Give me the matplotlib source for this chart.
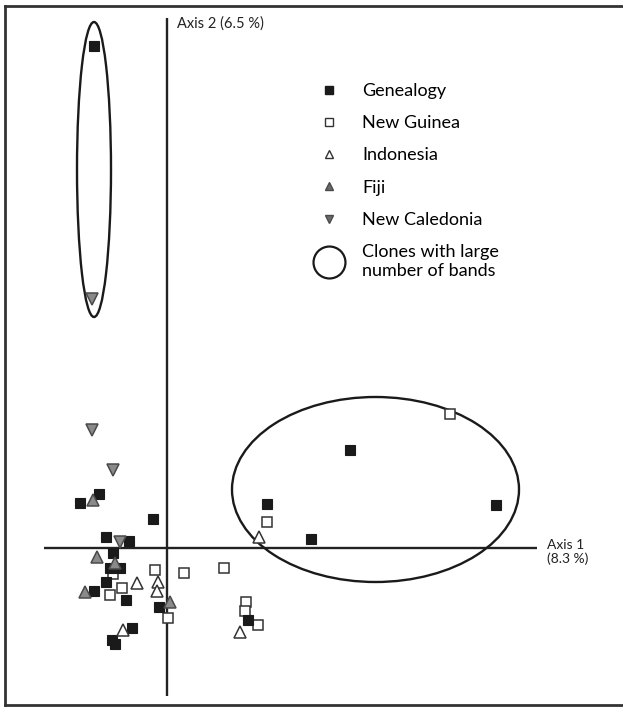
import matplotlib

matplotlib.use("Agg")
import matplotlib.pyplot as plt
import matplotlib.lines as mlines
from matplotlib.patches import Ellipse

plt.rcParams["font.family"] = ["Lato", "DejaVu Sans"]

# PCA scores (arbitrary units, origin at axis crossing)
genealogy_x = [-7.3, -6.8, -8.7, -1.4, -6.1, -3.8, -5.4, -5.7, -4.7, -6.1, -7.3,
               -4.1, -0.8, -3.5, -5.5, -5.2, 8.1, 10.0, 14.4, 18.3, 32.9]
genealogy_y = [50.2, 5.4, 4.5, 2.9, 1.1, 0.7, -0.5, -2.0, -2.0, -3.4, -4.3,
               -5.2, -5.9, -8.0, -9.2, -9.6, -7.2, 4.4, 0.9, 9.8, 4.3]

new_guinea_x = [-5.4, -5.7, -4.5, -1.2, 1.7, 0.1, 5.7, 7.9, 7.8, 9.1, 10.0, 28.3]
new_guinea_y = [-2.6, -4.7, -4.0, -2.2, -2.5, -7.0, -2.0, -5.4, -6.3, -7.7, 2.6, 13.4]

indonesia_x = [-3.0, -0.9, -1.0, -4.4, 7.3, 9.2]
indonesia_y = [-3.5, -3.4, -4.3, -8.2, -8.4, 1.1]

fiji_x = [-7.4, -7.0, -5.2, -8.2, 0.3]
fiji_y = [4.8, -0.9, -1.5, -4.4, -5.4]

new_caledonia_x = [-7.5, -5.4, -4.7, -7.5]
new_caledonia_y = [11.8, 7.8, 0.6, 24.9]

# ellipses around clones with many bands: (cx, cy, width, height)
clone_groups = [(20.85, 5.85, 28.7, 18.5), (-7.3, 37.85, 3.4, 29.5)]

AXIS1_SPAN = (-12.3, 37.0)
AXIS2_SPAN = (-14.8, 53.0)
XLIM = (-16.7, 45.6)
YLIM = (-15.9, 54.8)

fig = plt.figure(figsize=(6.23, 7.07), dpi=100)
ax = fig.add_axes([0, 0, 1, 1])
ax.set_xlim(*XLIM)
ax.set_ylim(*YLIM)
ax.axis("off")

# axes of the ordination
ax.hlines(0, *AXIS1_SPAN, color="#222222", lw=1.7, zorder=1)
ax.vlines(0, *AXIS2_SPAN, color="#222222", lw=1.7, zorder=1)
ax.text(AXIS1_SPAN[1] + 1.0, -0.4, "Axis 1\n(8.3 %)", fontsize=10, va="center",
        ha="left", color="#222222", linespacing=1.05)
ax.text(1.0, AXIS2_SPAN[1] - 0.6, "Axis 2 (6.5 %)", fontsize=10.5, va="center",
        ha="left", color="#222222")

for cx, cy, w, h in clone_groups:
    ax.add_patch(Ellipse((cx, cy), w, h, fill=False, ec="#1a1a1a", lw=1.7, zorder=2))

ax.plot(new_guinea_x, new_guinea_y, "s", ms=7.4, mfc="white", mec="#333333",
        mew=1.1, zorder=3)
ax.plot(genealogy_x, genealogy_y, "s", ms=7.6, mfc="#1a1a1a", mec="#1a1a1a",
        mew=0.8, zorder=4)
ax.plot(indonesia_x, indonesia_y, "^", ms=8.2, mfc="white", mec="#333333",
        mew=1.1, zorder=5)
ax.plot(fiji_x, fiji_y, "^", ms=8.2, mfc="#8a8a8a", mec="#4a4a4a",
        mew=1.1, zorder=5)
ax.plot(new_caledonia_x, new_caledonia_y, "v", ms=8.2, mfc="#8a8a8a", mec="#4a4a4a",
        mew=1.1, zorder=5)

handles = [
    mlines.Line2D([], [], ls="None", marker="s", ms=5.5, mfc="#1a1a1a", mec="#1a1a1a",
                  label="Genealogy"),
    mlines.Line2D([], [], ls="None", marker="s", ms=5.5, mfc="white", mec="#333333",
                  label="New Guinea"),
    mlines.Line2D([], [], ls="None", marker="^", ms=6, mfc="white", mec="#333333",
                  label="Indonesia"),
    mlines.Line2D([], [], ls="None", marker="^", ms=6, mfc="#6a6a6a", mec="#4a4a4a",
                  label="Fiji"),
    mlines.Line2D([], [], ls="None", marker="v", ms=6, mfc="#6a6a6a", mec="#4a4a4a",
                  label="New Caledonia"),
    mlines.Line2D([], [], ls="None", marker="o", ms=23, mfc="none", mec="#1a1a1a",
                  mew=1.6, label="Clones with large\nnumber of bands"),
]
fig.legend(handles=handles, loc="upper left", bbox_to_anchor=(311 / 623, 1 - 83 / 707),
           frameon=False, fontsize=13, handlelength=2.0, handletextpad=0.83,
           labelspacing=0.9, borderpad=0, borderaxespad=0)

# scanned frame around the panel
frame = dict(color="#333333", lw=2.0, transform=fig.transFigure)
fig.add_artist(mlines.Line2D([5 / 623, 5 / 623], [1 - 6 / 707, 1 - 705 / 707], **frame))
fig.add_artist(mlines.Line2D([5 / 623, 1.0], [1 - 6 / 707, 1 - 6 / 707], **frame))
fig.add_artist(mlines.Line2D([5 / 623, 1.0], [1 - 705 / 707, 1 - 705 / 707], **frame))

fig.savefig("out.png", dpi=100)
